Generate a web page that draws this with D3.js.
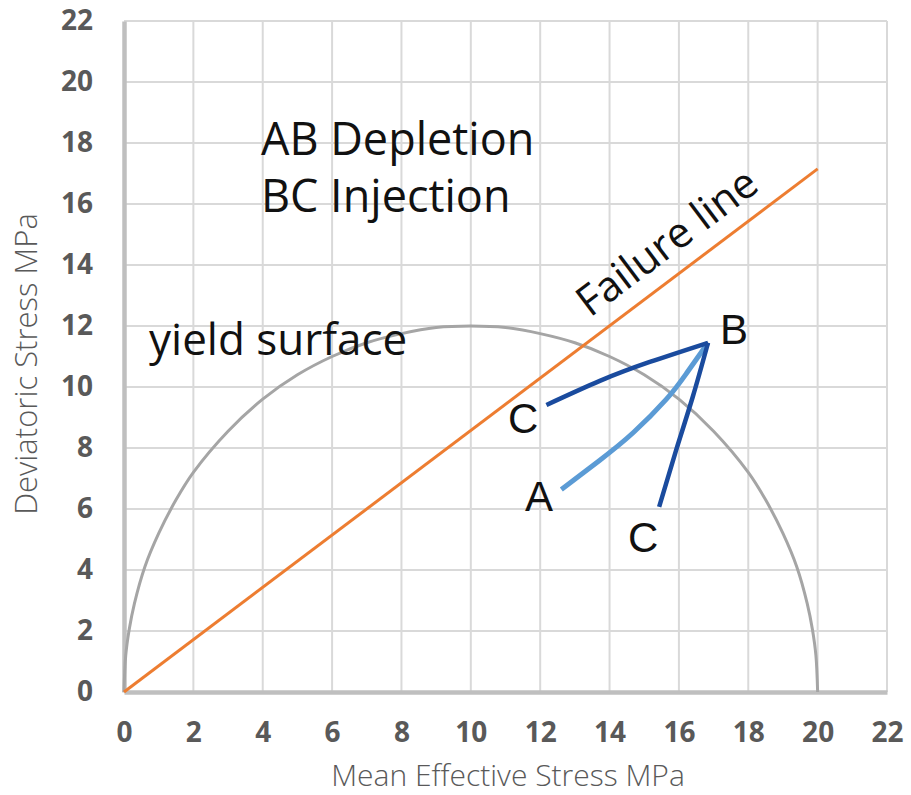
<!DOCTYPE html>
<html>
<head>
<meta charset="utf-8">
<script src="https://cdn.jsdelivr.net/npm/d3@7"></script>
<style>
  body{margin:0;background:#fff;}
  svg text{font-family:"Open Sans",sans-serif;}
</style>
</head>
<body>
<div id="chart"></div>
<script>
// tick values
const xTicks = [0,2,4,6,8,10,12,14,16,18,20,22];
const yTicks = [0,2,4,6,8,10,12,14,16,18,20,22];

// yield surface (p, q)
const yieldP = [0,0.05,0.15,0.3,0.6,1,1.5,2,3,4,5,6,7,8,9,10,11,12,13,14,15,16,17,18,18.5,19,19.4,19.7,19.85,19.95,20];
const yieldQ = [0,1.2,2.05,2.9,4.1,5.2,6.3,7.2,8.55,9.6,10.4,11.0,11.45,11.75,11.95,12,11.95,11.75,11.45,11.0,10.4,9.6,8.55,7.2,6.3,5.2,4.1,2.9,2.05,1.2,0];

// failure line
const failP = [0,20];
const failQ = [0,17.15];

// AB depletion path
const abP = [12.61,13.72,14.68,15.64,16.22,16.84];
const abQ = [6.64,7.6,8.5,9.6,10.45,11.45];

// BC injection paths
const bc1P = [16.84,15.16,13.72,12.18];
const bc1Q = [11.45,10.82,10.2,9.41];
const bc2P = [16.84,16.4,15.92,15.43];
const bc2Q = [11.45,9.68,7.93,6.07];

const W = 911, H = 795;
const margin = {top:21, right:24, bottom:103, left:124};

const svg = d3.select('#chart').append('svg')
  .attr('width', W).attr('height', H);

const x = d3.scaleLinear().domain([0,22]).range([margin.left, W - margin.right]);
const y = d3.scaleLinear().domain([0,22]).range([H - margin.bottom, margin.top]);

// gridlines
const grid = svg.append('g').attr('class','grid');
grid.selectAll('line.v').data(xTicks.slice(1)).enter().append('line')
  .attr('x1', d => x(d)).attr('x2', d => x(d))
  .attr('y1', y(0)).attr('y2', y(22))
  .attr('stroke','#d9d9d9').attr('stroke-width',2);
grid.selectAll('line.h').data(yTicks.slice(1)).enter().append('line')
  .attr('x1', x(0)).attr('x2', x(22))
  .attr('y1', d => y(d)).attr('y2', d => y(d))
  .attr('stroke','#d9d9d9').attr('stroke-width',2);

// axes
const xAxis = d3.axisBottom(x).tickValues(xTicks).tickSize(0).tickPadding(30);
const yAxis = d3.axisLeft(y).tickValues(yTicks).tickSize(0).tickPadding(31);

const gx = svg.append('g').attr('transform','translate(0,' + y(0) + ')').call(xAxis);
const gy = svg.append('g').attr('transform','translate(' + x(0) + ',0)').call(yAxis);

[gx, gy].forEach(g => {
  g.select('.domain').attr('stroke','#bfbfbf').attr('stroke-width',4.5);
  g.selectAll('text')
    .style('font-family','"Open Sans",sans-serif')
    .attr('font-size',28).attr('font-weight',700).attr('fill','#595959');
});
gx.selectAll('text').attr('dy','0.71em');

// axis titles
svg.append('text')
  .attr('x', 508).attr('y', 786)
  .attr('text-anchor','middle')
  .attr('font-size',30).attr('font-weight',300).attr('fill','#595959')
  .text('Mean Effective Stress MPa');
svg.append('text')
  .attr('transform','translate(37,364) rotate(-90)')
  .attr('text-anchor','middle')
  .attr('font-size',31).attr('font-weight',300).attr('fill','#595959')
  .text('Deviatoric Stress MPa');

const toPts = (ps, qs) => ps.map((p,i) => [p, qs[i]]);

// yield surface
svg.append('path').datum(toPts(yieldP, yieldQ))
  .attr('d', d3.line().x(d => x(d[0])).y(d => y(d[1])).curve(d3.curveCatmullRom))
  .attr('fill','none')
  .attr('stroke','#a5a5a5').attr('stroke-width',3);

// failure line
svg.append('path').datum(toPts(failP, failQ))
  .attr('d', d3.line().x(d => x(d[0])).y(d => y(d[1])))
  .attr('fill','none').attr('stroke','#ed7d31').attr('stroke-width',3);

// stress paths
const curve = d3.line().x(d => x(d[0])).y(d => y(d[1])).curve(d3.curveNatural);
svg.append('path').datum(toPts(abP, abQ))
  .attr('d', curve).attr('fill','none')
  .attr('stroke','#5b9bd5').attr('stroke-width',5);
svg.append('path').datum(toPts(bc1P, bc1Q))
  .attr('d', curve).attr('fill','none')
  .attr('stroke','#1a4b9e').attr('stroke-width',4.5);
svg.append('path').datum(toPts(bc2P, bc2Q))
  .attr('d', curve).attr('fill','none')
  .attr('stroke','#1a4b9e').attr('stroke-width',4.5);

// annotations
const note = (tx, ty, str, size, fam, rot) => {
  svg.append('text')
    .attr('transform','translate(' + tx + ',' + ty + ')' + (rot ? ' rotate(' + rot + ')' : ''))
    .attr('font-size', size).attr('fill','#111')
    .style('font-family', fam)
    .text(str);
};
note(261, 155, 'AB Depletion', 45, '"Open Sans",sans-serif');
note(261, 212, 'BC Injection', 45, '"Open Sans",sans-serif');
note(149, 355, 'yield surface', 44, '"Open Sans",sans-serif');
note(590, 318, 'Failure line', 42, '"Open Sans",sans-serif', -37);
note(720, 344, 'B', 42, '"Liberation Sans",Arial,sans-serif');
note(508, 433, 'C', 42, '"Liberation Sans",Arial,sans-serif');
note(525, 511, 'A', 42, '"Liberation Sans",Arial,sans-serif');
note(628, 552, 'C', 42, '"Liberation Sans",Arial,sans-serif');
</script>
</body>
</html>
